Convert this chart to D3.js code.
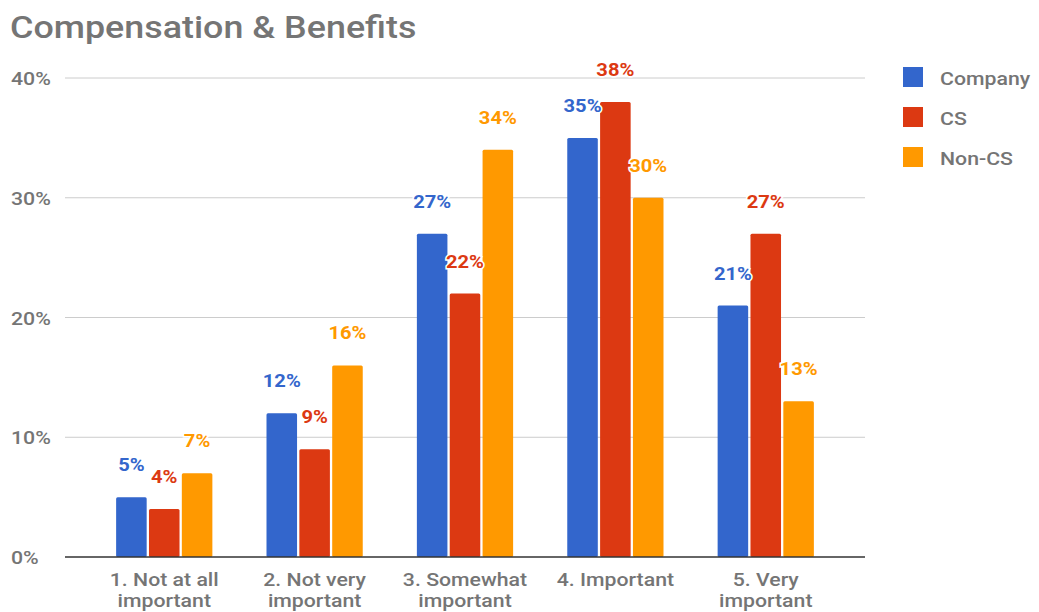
<!DOCTYPE html>
<html>
<head>
<meta charset="utf-8">
<script src="https://cdn.jsdelivr.net/npm/d3@7"></script>
<style>
  body { margin: 0; background: #fff; }
  text { font-family: Roboto, Arial, sans-serif; }
</style>
</head>
<body>
<div id="chart"></div>
<script>
var categories = ["1. Not at all|important", "2. Not very|important", "3. Somewhat|important", "4. Important", "5. Very|important"];
var seriesNames = ["Company", "CS", "Non-CS"];
var company = [5, 12, 27, 35, 21];
var cs = [4, 9, 22, 38, 27];
var nonCs = [7, 16, 34, 30, 13];
var yTicks = [0, 10, 20, 30, 40];
var colors = ["#3366cc", "#dc3912", "#ff9900"];

var width = 1039, height = 612;
var margin = {top: 78, right: 174, bottom: 55, left: 65};
var stretch = 1.12; // text in the picture is a bit wide

var svg = d3.select("#chart").append("svg")
  .attr("width", width)
  .attr("height", height);

function place(x, y) {
  return "translate(" + x + "," + y + ") scale(" + stretch + ",1)";
}

// title
svg.append("text")
  .attr("transform", place(10, 38))
  .attr("fill", "#757575")
  .attr("font-size", "32px")
  .attr("font-weight", 500)
  .text("Compensation & Benefits");

var x0 = d3.scaleBand()
  .domain(categories)
  .range([margin.left, width - margin.right])
  .paddingInner(0.36)
  .paddingOuter(0.34);

var x1 = d3.scaleBand()
  .domain(seriesNames)
  .range([0, x0.bandwidth()])
  .paddingInner(0.07);

var y = d3.scaleLinear()
  .domain([0, 40])
  .range([height - margin.bottom, margin.top]);

// gridlines
svg.append("g")
  .selectAll("line")
  .data(yTicks.slice(1))
  .enter().append("line")
    .attr("x1", margin.left)
    .attr("x2", width - margin.right)
    .attr("y1", d => y(d))
    .attr("y2", d => y(d))
    .attr("stroke", "#cccccc")
    .attr("stroke-width", 1);

// y labels
svg.append("g")
  .selectAll("text")
  .data(yTicks)
  .enter().append("text")
    .attr("transform", d => place(11, y(d) + 7))
    .attr("fill", "#757575")
    .attr("font-size", "19px")
    .attr("font-weight", 500)
    .text(d => d + "%");

var rows = categories.map((c, i) => ({
  cat: c,
  vals: [company[i], cs[i], nonCs[i]]
}));

var groups = svg.append("g")
  .selectAll("g")
  .data(rows)
  .enter().append("g")
    .attr("transform", d => "translate(" + x0(d.cat) + ",0)");

groups.selectAll("rect")
  .data(d => d.vals.map((v, k) => ({name: seriesNames[k], v: v, k: k})))
  .enter().append("rect")
    .attr("x", d => x1(d.name))
    .attr("y", d => y(d.v))
    .attr("width", x1.bandwidth())
    .attr("height", d => y(0) - y(d.v))
    .attr("rx", 1.5)
    .attr("fill", d => colors[d.k]);

groups.selectAll("text")
  .data(d => d.vals.map((v, k) => ({name: seriesNames[k], v: v, k: k})))
  .enter().append("text")
    .attr("transform", d => place(x1(d.name) + x1.bandwidth() / 2, y(d.v) - 26))
    .attr("text-anchor", "middle")
    .attr("font-size", "18px")
    .attr("font-weight", 700)
    .attr("fill", d => colors[d.k])
    .attr("stroke", "#fff")
    .attr("stroke-width", 3)
    .attr("paint-order", "stroke")
    .text(d => d.v + "%");

// baseline
svg.append("line")
  .attr("x1", margin.left)
  .attr("x2", width - margin.right)
  .attr("y1", y(0))
  .attr("y2", y(0))
  .attr("stroke", "#333")
  .attr("stroke-width", 1.5);

// category labels
var catLabels = svg.append("g")
  .selectAll("text")
  .data(categories)
  .enter().append("text")
    .attr("transform", d => place(x0(d) + x0.bandwidth() / 2, y(0) + 29))
    .attr("text-anchor", "middle")
    .attr("fill", "#757575")
    .attr("font-size", "19px")
    .attr("font-weight", 500);

catLabels.selectAll("tspan")
  .data(d => d.split("|"))
  .enter().append("tspan")
    .attr("x", 0)
    .attr("dy", (d, i) => i ? 21 : 0)
    .text(d => d);

// legend
var legend = svg.append("g")
  .selectAll("g")
  .data(seriesNames)
  .enter().append("g")
    .attr("transform", (d, i) => "translate(903," + (67 + i * 40) + ")");

legend.append("rect")
  .attr("width", 20)
  .attr("height", 20)
  .attr("fill", (d, i) => colors[i]);

legend.append("text")
  .attr("transform", place(37, 18))
  .attr("fill", "#757575")
  .attr("font-size", "19px")
  .attr("font-weight", 500)
  .text(d => d);
</script>
</body>
</html>
